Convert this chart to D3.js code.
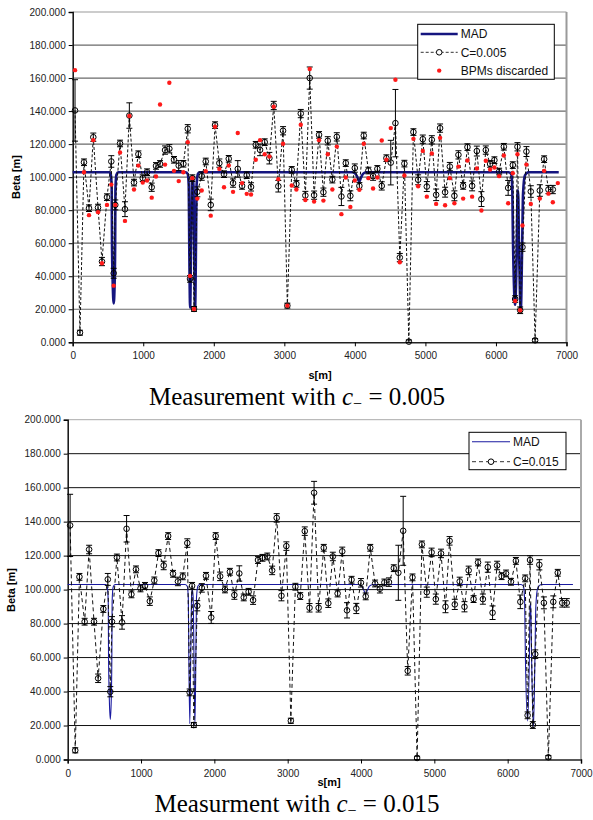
<!DOCTYPE html>
<html><head><meta charset="utf-8">
<script src="https://cdn.jsdelivr.net/npm/d3@7"></script>
<style>body{margin:0;background:#fff} svg{display:block}</style>
</head><body><svg id="c" width="593" height="820"></svg>
<script>
// ---------------- DATA ----------------
const bpmS = [33,103,160,231,292,359,415,486,547,581,604,671,741,803,869,931,993,1054,1120,1181,
 1238,1309,1370,1436,1503,1569,1631,1663,1696,1720,1767,1829,1886,1957,2018,2079,2145,2212,2273,2340,
 2401,2467,2528,2595,2656,2722,2788,2850,2915,2982,3043,3105,3171,3233,3298,3360,3422,3492,3554,3616,
 3681,3744,3809,3871,3936,3999,4064,4126,4192,4258,4319,4381,4447,4509,4575,4637,4702,4765,4830,4897,
 4963,5020,5091,5152,5208,5279,5346,5411,5468,5535,5596,5662,5729,5794,5856,5917,5978,6045,6112,6173,
 6239,6272,6305,6343,6376,6432,6494,6555,6622,6683,6744,6806];
const betaC005 = [140.4,5.8,109,81.2,124.2,81.6,48.9,87.9,109.5,41.8,83.2,120.4,80.6,137.3,96.7,113.9,99.4,103,93.9,106.8,
 108,116.4,117.2,110.5,107,108.1,129.3,38.4,99.4,20.2,91.1,100.6,109.5,83.2,131.5,108.5,101.8,111.1,96.4,105,
 94.7,101.2,94.1,119.6,116.5,121.2,111.5,143.4,94.5,128.1,22.2,104.4,95.9,138.5,88.9,160,89.1,125.6,90.9,122,
 98.5,124.4,88.3,108.5,88.7,105.5,94.7,125.2,104,100.6,105,94.7,111.5,108.8,132.7,51.3,108.2,0.4,127.3,98.4,
 123,94.3,122.6,89.3,129.7,90.9,106.4,88.7,113.5,94.7,118.2,94.7,115.8,86.7,116.4,108,110.3,103.4,118.4,93.5,
 107.3,26.2,118.4,19.4,57.6,115.5,91.3,1.2,91.9,110.9,92.5,92.5];
const errC005 = [18.6,1.5,2,2,2.5,2,2.5,2,3.5,3,3,2,4.5,7.7,2,2,2,2,2.5,2,
 2,2.5,2.5,2,3,2,2.5,2,2,1.5,3,2.5,2,3.5,2,2.5,2,2,2.5,5,
 2,2,2.5,2,3.5,2,3.5,2.5,3.5,2.5,1.5,2,2,2.5,2.5,6.7,2.5,2,2.5,2.5,
 2,2.5,5.5,2,3,2.5,2,2,2,2.5,2,2.5,2,13.5,20.4,2.5,2,1,2,3,
 2.5,3,2.5,3.5,2.5,3,2.5,3,2.5,2,2,3,3,4.5,2.5,2,2,2,2,4.5,
 2,2,2.5,2,2.5,3,3.5,1,3.5,2,2.5,2.5];
const betaC015 = [137.8,5.4,107.5,81.1,123.6,81.1,47.8,88.6,106,39.9,81.1,118.9,80.7,135.8,97.2,111.9,100.7,102.2,93.2,105.4,
 121.5,114.2,131.5,109.3,104.8,107.8,127.4,39.5,102.2,20.3,90.5,101,108.1,83.6,131.5,107.8,100.1,110.5,96.8,109.5,
 95.4,98.7,93.8,117.4,118.7,119.5,111.3,142.2,96.4,125.6,22.8,101.7,96.2,134.4,89.3,157,89.3,124.6,92,119.5,
 97.7,122.5,87.8,105.8,88.9,104,96,124.6,103.6,100.5,104.2,104.4,112.6,109.9,134.6,52.2,107.2,0.9,126.6,98.5,
 121.9,94.4,121.3,89.9,128.7,91.3,104.8,89.9,111.3,94.4,116,94.4,113.2,86.4,114.2,107.9,109.5,104.6,116.9,92.8,
 106.6,26,117.4,20.3,62,114.6,92.2,1.3,92.8,109.9,92.2,92.2];
const errC015 = [18.3,1.5,2,2,2.5,2,2.5,2,3.5,3,3,2,4,7.8,2,2,2,2,2.5,2,
 2,2.5,2,2,2.5,2,2.5,2,2,1.5,3,2.5,2,3.5,2,2.5,2,2,2.5,4.5,
 2,2,2.5,2,2,2,2.5,2.5,3,2.5,1.5,2,2,2.5,2.5,6.7,2.5,2,2.5,2.5,
 2,2.5,4.5,2,3,2.5,2,2,2,2.5,2,2.5,2,16.2,20.3,2.5,2,1,2,3,
 2.5,3,2.5,3.5,2.5,3,2.5,3,2.5,2,2,3,3,4,2.5,2,2,2,2,4,
 2,2,2.5,2,2.5,3,3.5,1,3.5,2,2.5,2.5];
const discardS = [33,160,231,292,359,415,486,547,581,604,671,741,803,869,931,993,1054,1120,1181,1238,
 1309,1370,1436,1503,1569,1631,1663,1696,1720,1767,1829,1886,1957,2018,2079,2145,2212,2273,2340,2401,
 2467,2528,2595,2656,2722,2788,2850,2915,2982,3043,3105,3171,3233,3298,3360,3422,3492,3554,3616,3681,
 3744,3809,3871,3936,3999,4064,4126,4192,4258,4319,4381,4447,4509,4575,4637,4702,4830,4897,4963,5020,
 5091,5152,5208,5279,5346,5411,5468,5535,5596,5662,5729,5794,5856,5917,5978,6045,6112,6173,6239,6272,
 6305,6343,6376,6432,6494,6622,6683,6744,6806,6877];
const discardBeta = [164.8,103,77,122.4,78.8,47.9,83.2,95.5,34.3,83.2,114.9,73.5,137,92.5,107,96.7,98,87.6,100.4,144,
 107.6,157.2,103.8,97.6,103,121.2,40.2,99.4,20.2,87,91.9,103.6,76.7,130.5,105,93.9,107,91.1,126.7,96.4,
 89.9,89.5,110.5,122.4,113.9,112.5,142.6,98.8,120.2,22.2,94.9,92.5,131.7,86.2,165.5,85.2,122.4,85.8,113.9,92.5,
 118.5,77.6,99.8,82,98,92.3,120.2,99.4,93.1,99.8,122.2,110.5,129.7,159,48.5,101,123.2,94.5,115.9,88.2,
 114.3,83.8,123.8,83,99.4,84.2,106.4,87,110.1,88.2,105.2,79.8,109.9,104.6,105.8,100.6,113.1,84.2,102.4,25,
 113.9,19.4,70.7,107.6,83.8,87,103.8,90,84.8,96.4];
const madS = [0,520,540,553,557,568,581,594,602,606,620,645,
 1600,1630,1645,1652,1665,1678,1690,1700,1712,1722,1735,1748,1756,1775,1800,
 3960,4010,4040,4062,4085,4115,4160,
 6180,6215,6230,6242,6272,6296,6306,6314,6326,6352,6372,6384,6410,6460,6890];
const madBeta = [103,103,101.5,93,60,35,23.6,35,60,93,101.5,103,
 103,102,95,60,21,60,97,100,95,60,20.5,60,95,102,103,
 103,102,99.5,97.3,99.5,102,103,
 103,102,95,60,22.7,60,90,92,60,19.3,60,90,101,103,103];
const yTicks = d3.range(0, 201, 20);
const xTicks = d3.range(0, 7001, 1000);

// ---------------- DRAW ----------------
const svg = d3.select("#c");
const SANS = "Arial, 'Liberation Sans', sans-serif";
const SERIF = "'Times New Roman', 'Liberation Serif', serif";

function panel(cfg) {
  const g = svg.append("g");
  const x = d3.scaleLinear().domain([0, 7000]).range([cfg.x0, cfg.x1]);
  const y = d3.scaleLinear().domain([0, 200]).range([cfg.y0, cfg.y1]);

  // grid
  g.append("g").selectAll("line").data(yTicks.filter(v => v > 0)).join("line")
    .attr("x1", cfg.x0).attr("x2", cfg.x1)
    .attr("y1", d => y(d)).attr("y2", d => y(d))
    .attr("stroke", d => d === 200 ? cfg.frameColor : cfg.gridColor)
    .attr("stroke-width", cfg.gridWidth);
  // right frame
  g.append("line").attr("x1", cfg.x1).attr("x2", cfg.x1).attr("y1", cfg.y1).attr("y2", cfg.y0)
    .attr("stroke", cfg.frameColor).attr("stroke-width", 2);

  // axes
  const ya = g.append("g").attr("transform", `translate(${cfg.x0},0)`)
    .call(d3.axisLeft(y).tickValues(yTicks).tickFormat(d3.format(".3f")).tickSize(4).tickPadding(3));
  ya.select(".domain").attr("stroke", "#111").attr("stroke-width", 1.5);
  ya.selectAll("text").attr("font-family", SANS).attr("font-size", 10).attr("fill", "#222");
  const xa = g.append("g").attr("transform", `translate(0,${cfg.y0})`)
    .call(d3.axisBottom(x).tickValues(xTicks).tickFormat(d3.format("d")).tickSize(4).tickPadding(6));
  xa.select(".domain").attr("stroke", "#222").attr("stroke-width", 1.5);
  xa.selectAll("text").attr("font-family", SANS).attr("font-size", 10).attr("fill", "#222");

  // axis titles
  g.append("text").attr("transform", `translate(${cfg.yTitleX},${cfg.yTitleY}) rotate(-90)`)
    .attr("text-anchor", "middle").attr("font-family", SANS).attr("font-weight", "bold")
    .attr("font-size", 11).text("Beta [m]");
  g.append("text").attr("x", cfg.sX).attr("y", cfg.sY).attr("text-anchor", "middle")
    .attr("font-family", SANS).attr("font-weight", "bold").attr("font-size", 11).text("s[m]");

  // MAD line
  const mad = madS.map((s, i) => [s, madBeta[i]]);
  g.append("path").datum(mad)
    .attr("d", d3.line().x(d => x(d[0])).y(d => y(d[1])).curve(d3.curveMonotoneX))
    .attr("fill", "none").attr("stroke", cfg.madColor).attr("stroke-width", cfg.madWidth)
    .attr("stroke-linejoin", "round");

  // measured series
  const pts = bpmS.map((s, i) => ({ s, b: cfg.beta[i], e: cfg.err[i] }));
  g.append("path").datum(pts)
    .attr("d", d3.line().x(d => x(d.s)).y(d => y(d.b)))
    .attr("fill", "none").attr("stroke", "#111").attr("stroke-width", 1)
    .attr("stroke-dasharray", cfg.dash);
  const eb = g.append("g").attr("stroke", "#000").attr("stroke-width", 1);
  pts.forEach(d => {
    const hi = y(d.b + d.e), lo = y(Math.max(0, d.b - d.e)), cx = x(d.s);
    eb.append("line").attr("x1", cx).attr("x2", cx).attr("y1", hi).attr("y2", lo);
    eb.append("line").attr("x1", cx - 3).attr("x2", cx + 3).attr("y1", hi).attr("y2", hi);
    eb.append("line").attr("x1", cx - 3).attr("x2", cx + 3).attr("y1", lo).attr("y2", lo);
  });
  g.append("g").selectAll("circle").data(pts).join("circle")
    .attr("cx", d => x(d.s)).attr("cy", d => y(d.b)).attr("r", 2.8)
    .attr("fill", "none").attr("stroke", "#000").attr("stroke-width", 1);

  if (cfg.discard) {
    g.append("g").selectAll("circle").data(discardS.map((s, i) => [s, discardBeta[i]])).join("circle")
      .attr("cx", d => x(d[0])).attr("cy", d => y(d[1])).attr("r", 2.2).attr("fill", "#ff1a1a");
  }

  // legend
  const L = cfg.legend;
  const lg = g.append("g");
  lg.append("rect").attr("x", L.x).attr("y", L.y).attr("width", L.w).attr("height", L.h)
    .attr("fill", "#fff").attr("stroke", "#000").attr("stroke-width", 1);
  const rows = L.rows;
  rows.forEach((r, i) => {
    const ry = L.y + L.first + i * L.step;
    if (r.type === "mad") {
      lg.append("line").attr("x1", L.x + 3).attr("x2", L.x + L.lineW).attr("y1", ry).attr("y2", ry)
        .attr("stroke", cfg.madColor).attr("stroke-width", cfg.madWidth);
    } else if (r.type === "meas") {
      lg.append("line").attr("x1", L.x + 3).attr("x2", L.x + L.lineW).attr("y1", ry).attr("y2", ry)
        .attr("stroke", "#333").attr("stroke-width", 1).attr("stroke-dasharray", cfg.dash);
      lg.append("circle").attr("cx", L.x + 3 + (L.lineW - 3) / 2).attr("cy", ry).attr("r", 2.8)
        .attr("fill", "#fff").attr("stroke", "#000");
    } else {
      lg.append("circle").attr("cx", L.x + 3 + (L.lineW - 3) / 2).attr("cy", ry).attr("r", 2.2)
        .attr("fill", "#ff1a1a");
    }
    lg.append("text").attr("x", L.x + L.lineW + 3).attr("y", ry + 4.3)
      .attr("font-family", SANS).attr("font-size", 12).attr("fill", "#111").text(r.label);
  });

  // caption
  const t = svg.append("text").attr("x", 297).attr("y", cfg.capY).attr("text-anchor", "middle")
    .attr("font-family", SERIF).attr("font-size", 25).attr("fill", "#000");
  t.append("tspan").text(cfg.capText + " ");
  t.append("tspan").attr("font-style", "italic").text("c");
  t.append("tspan").attr("font-size", 16).attr("dy", 4).text("\u2212");
  t.append("tspan").attr("dy", -4).text(" = " + cfg.capVal);
}

panel({
  x0: 72.7, x1: 566.5, y0: 342.3, y1: 12,
  gridColor: "#6a6a6a", frameColor: "#9a9a9a", gridWidth: 1.2,
  madColor: "#15157f", madWidth: 2.6, dash: "3,2",
  beta: betaC005, err: errC005, discard: true,
  yTitleX: 20, yTitleY: 177, sX: 320, sY: 379,
  legend: { x: 417.7, y: 24.3, w: 136.6, h: 55, first: 9.7, step: 18.3, lineW: 40,
    rows: [{ type: "mad", label: "MAD" }, { type: "meas", label: "C=0.005" }, { type: "disc", label: "BPMs discarded" }] },
  capY: 405, capText: "Measurement with", capVal: "0.005"
});
panel({
  x0: 67.7, x1: 581, y0: 759.5, y1: 419.7,
  gridColor: "#111", frameColor: "#aaaaaa", gridWidth: 1,
  madColor: "#1a1aa0", madWidth: 1.1, dash: "4,3",
  beta: betaC015, err: errC015, discard: false,
  yTitleX: 15, yTitleY: 590, sX: 329, sY: 786,
  legend: { x: 469, y: 432.3, w: 97, h: 37.4, first: 9.4, step: 20, lineW: 41,
    rows: [{ type: "mad", label: "MAD" }, { type: "meas", label: "C=0.015" }] },
  capY: 812, capText: "Measurment with", capVal: "0.015"
});
</script></body></html>
